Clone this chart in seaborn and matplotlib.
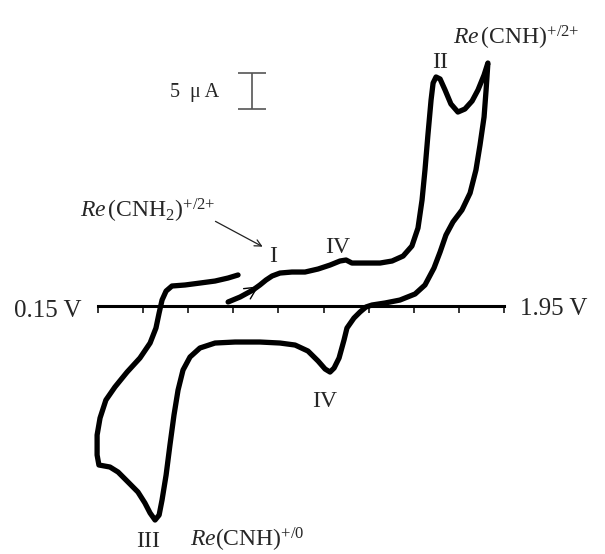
import numpy as np
import pandas as pd
import seaborn as sns
import matplotlib.pyplot as plt

# cyclic voltammogram (potential in V, current in uA)
potential = [0.727, 0.780, 0.837, 0.868, 0.895, 0.922, 0.957, 1.010, 1.068, 1.126,
             1.179, 1.223, 1.250, 1.276, 1.334, 1.401, 1.454, 1.503, 1.542, 1.569,
             1.587, 1.600, 1.613, 1.627, 1.636, 1.649, 1.667, 1.689, 1.715, 1.746,
             1.777, 1.809, 1.835, 1.862, 1.879, 1.871, 1.862, 1.844, 1.826, 1.800,
             1.764, 1.724, 1.693, 1.667, 1.640, 1.600, 1.556, 1.489, 1.423, 1.365,
             1.338, 1.312, 1.285, 1.254, 1.241, 1.219, 1.197, 1.179, 1.157, 1.126,
             1.081, 1.024, 0.957, 0.868, 0.758, 0.669, 0.602, 0.558, 0.527, 0.505,
             0.487, 0.469, 0.452, 0.434, 0.421, 0.403, 0.381, 0.358, 0.327, 0.283,
             0.239, 0.203, 0.154, 0.146, 0.146, 0.159, 0.185, 0.225, 0.279, 0.336,
             0.381, 0.407, 0.421, 0.434, 0.452, 0.478, 0.536, 0.602, 0.669, 0.727,
             0.771]
current = [0.56, 1.25, 2.22, 2.92, 3.61, 4.17, 4.58, 4.72, 4.72, 5.14,
           5.69, 6.25, 6.39, 5.97, 5.97, 5.97, 6.25, 6.94, 8.33, 10.83,
           14.72, 18.89, 23.75, 28.61, 30.97, 31.81, 31.53, 30.00, 28.06, 26.94,
           27.36, 28.47, 30.00, 32.08, 33.75, 30.00, 26.25, 22.36, 18.89, 15.69,
           13.33, 11.67, 9.86, 7.50, 5.28, 2.92, 1.67, 0.83, 0.42, 0.14,
           -0.14, -0.83, -1.67, -3.06, -4.72, -7.22, -8.61, -9.17, -8.75, -7.64,
           -6.25, -5.42, -5.14, -5.00, -5.00, -5.14, -5.83, -7.08, -8.89, -11.67,
           -15.14, -19.31, -23.47, -26.94, -29.03, -29.72, -28.75, -27.36, -25.83, -24.44,
           -23.06, -22.36, -22.08, -20.69, -17.92, -15.56, -13.06, -11.25, -9.17, -7.22,
           -5.14, -3.06, -0.97, 0.83, 2.08, 2.78, 2.92, 3.19, 3.47, 3.89,
           4.31]

tick_V = [0.15, 0.35, 0.55, 0.75, 0.95, 1.15, 1.35, 1.55, 1.75, 1.95]
scale_bar_V = 0.833
scale_bar_base = 27.36
scale_bar_uA = 5

df = pd.DataFrame({'V': potential, 'I': current})

sns.set_style('white')
plt.rcParams['font.family'] = ['Liberation Serif', 'DejaVu Serif']
plt.rcParams['mathtext.fontset'] = 'custom'
plt.rcParams['mathtext.rm'] = 'Liberation Serif'
plt.rcParams['mathtext.it'] = 'Liberation Serif:italic'

fig = plt.figure(figsize=(6.05, 5.54), dpi=100)
ax = fig.add_axes([0, 0, 1, 1])

sns.lineplot(data=df, x='V', y='I', sort=False, estimator=None, color='black',
             lw=3.8, solid_joinstyle='round', solid_capstyle='round', ax=ax, zorder=3)

ax.set_xlim(-0.2846, 2.3983)
ax.set_ylim(-34.44, 42.5)

# potential axis drawn as a spine through zero current
for s in ['top', 'right', 'left']:
    ax.spines[s].set_visible(False)
ax.spines['bottom'].set_position(('data', 0))
ax.spines['bottom'].set_bounds(0.15, 1.95)
ax.spines['bottom'].set_linewidth(2.2)
ax.spines['bottom'].set_color('black')
ax.set_xticks(tick_V)
ax.set_yticks([])
ax.tick_params(axis='x', direction='out', length=5, width=1.1, color='black',
               labelbottom=False, bottom=True)
ax.set_xlabel('')
ax.set_ylabel('')

ax.text(0.079, -1.49, '0.15 V', ha='right', va='baseline', fontsize=18)
ax.text(2.021, -1.25, '1.95 V', ha='left', va='baseline', fontsize=18)

# current scale bar
ax.errorbar([scale_bar_V], [scale_bar_base + scale_bar_uA / 2], yerr=scale_bar_uA / 2,
            fmt='none', ecolor='#555555', elinewidth=1.2, capsize=10, capthick=1.2)
ax.text(0.469, 29.03, '5  μ A', ha='left', va='baseline', fontsize=14.5)

# peak labels
ax.text(1.669, 33.06, 'II', ha='center', va='baseline', fontsize=17)
ax.text(0.926, 6.11, 'I', ha='center', va='baseline', fontsize=17)
ax.text(1.212, 7.36, 'IV', ha='center', va='baseline', fontsize=17)
ax.text(1.157, -14.03, 'IV', ha='center', va='baseline', fontsize=17)
ax.text(0.370, -33.4, 'III', ha='center', va='baseline', fontsize=17)

ax.text(1.724, 36.25, r'$\mathit{Re}\,(\mathrm{CNH})^{\text{+/2+}}$', ha='left', va='baseline', fontsize=17)
ax.text(0.070, 12.22, r'$\mathit{Re}\,(\mathrm{CNH}_2)^{\text{+/2+}}$', ha='left', va='baseline', fontsize=17)
ax.text(0.558, -33.4, r'$\mathit{Re}(\mathrm{CNH})^{\text{+/0}}$', ha='left', va='baseline', fontsize=17)

ax.annotate('', xy=(0.891, 8.06), xytext=(0.660, 11.94),
            arrowprops=dict(arrowstyle='->', lw=0.9, color='#222222', mutation_scale=12))

# scan direction arrow on the forward sweep
ax.annotate('', xy=(0.872, 2.95), xytext=(0.84, 2.3),
            arrowprops=dict(arrowstyle='->', lw=1.0, color='black', mutation_scale=22))

plt.savefig('out.png', dpi=100)
plt.close()
